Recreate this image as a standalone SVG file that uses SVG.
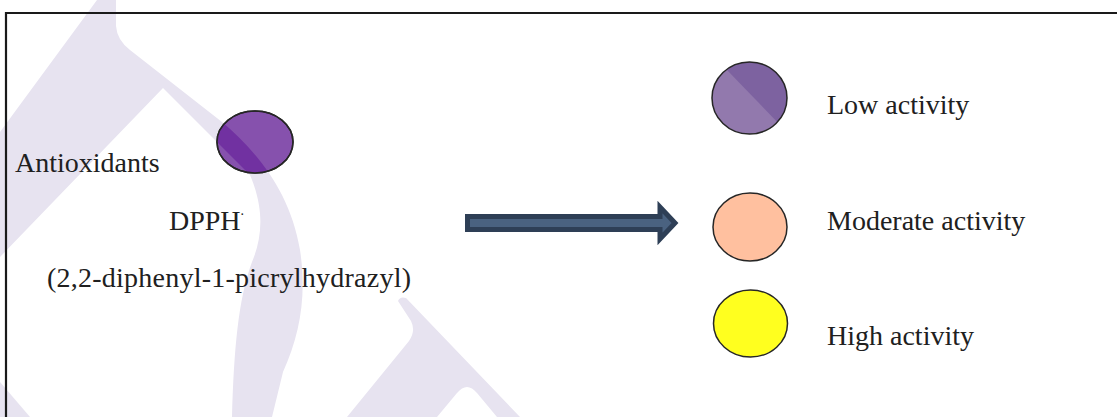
<svg xmlns="http://www.w3.org/2000/svg" width="1117" height="417" viewBox="0 0 1117 417">
  <style>
    .wm { fill: #e7e3f0; }
    .lbl { font-family: "Liberation Serif", "Times New Roman", serif; font-size: 28px; fill: #202020; }
    .node { stroke: #262626; stroke-width: 1.5; }
  </style>
  <defs>
    <path id="wmA" d="M97,0 L116,0 L116,26 Q117,40 130,50 L222,122 C255,150 290,190 300,250 C307,295 300,335 283,372 L272,417 L232,417 C234,350 238,300 252,262 C262,238 265,210 250,175 L163,88 L0,257 L0,132 Z"/>
    <clipPath id="clipDpph"><ellipse cx="255" cy="142" rx="38" ry="31"/></clipPath>
    <clipPath id="clipLow"><ellipse cx="749.5" cy="98" rx="37.5" ry="36"/></clipPath>
  </defs>

  <rect x="0" y="0" width="1117" height="417" fill="#ffffff"/>

  <g id="watermark">
    <use href="#wmA" class="wm"/>
    <path class="wm" d="M398,301 Q400,296 406,298 L520,417 L497,417 L477,393 Q467,381 457,393 L437,417 L347,417 L409,341 Q416,331 411,321 Z"/>
    <path class="wm" d="M0,382 L30,417 L0,417 Z"/>
  </g>

  <g id="frame">
    <path d="M6,418 L6,13 L1118,13" fill="none" stroke="#1a1a1a" stroke-width="2.2"/>
  </g>

  <g id="antioxidants">
    <text class="lbl" font-family="Liberation Serif, Times New Roman, serif" x="15" y="172">Antioxidants</text>
  </g>

  <g id="dpph">
    <ellipse class="node" cx="255" cy="142" rx="38" ry="31" fill="#8651ad"/>
    <g clip-path="url(#clipDpph)">
      <use href="#wmA" fill="#7131a1"/>
    </g>
    <ellipse cx="255" cy="142" rx="38" ry="31" fill="none" stroke="#262626" stroke-width="1.5"/>
    <text class="lbl" font-family="Liberation Serif, Times New Roman, serif" x="169" y="230">DPPH<tspan font-size="14" dy="-15">.</tspan></text>
    <text class="lbl" font-family="Liberation Serif, Times New Roman, serif" x="47" y="287" textLength="364" lengthAdjust="spacing">(2,2-diphenyl-1-picrylhydrazyl)</text>
  </g>

  <g id="connectors">
    <polygon points="467.5,216.5 660,216.5 660,207 675,223 660,239 660,229.5 467.5,229.5" fill="#4a6280" stroke="#2e3f56" stroke-width="5" stroke-linejoin="miter"/>
  </g>

  <g id="low-activity">
    <ellipse cx="749.5" cy="98" rx="37.5" ry="36" fill="#9279ad"/>
    <polygon points="698,40 810,156 810,40" fill="#7d62a0" clip-path="url(#clipLow)"/>
    <ellipse class="node" cx="749.5" cy="98" rx="37.5" ry="36" fill="none"/>
    <text class="lbl" font-family="Liberation Serif, Times New Roman, serif" x="827" y="114">Low activity</text>
  </g>

  <g id="moderate-activity">
    <ellipse class="node" cx="750" cy="227" rx="37" ry="34" fill="#ffc09f"/>
    <text class="lbl" font-family="Liberation Serif, Times New Roman, serif" x="827" y="230">Moderate activity</text>
  </g>

  <g id="high-activity">
    <ellipse class="node" cx="750.5" cy="323.5" rx="37" ry="33.5" fill="#ffff1f"/>
    <text class="lbl" font-family="Liberation Serif, Times New Roman, serif" x="827" y="345">High activity</text>
  </g>
</svg>
